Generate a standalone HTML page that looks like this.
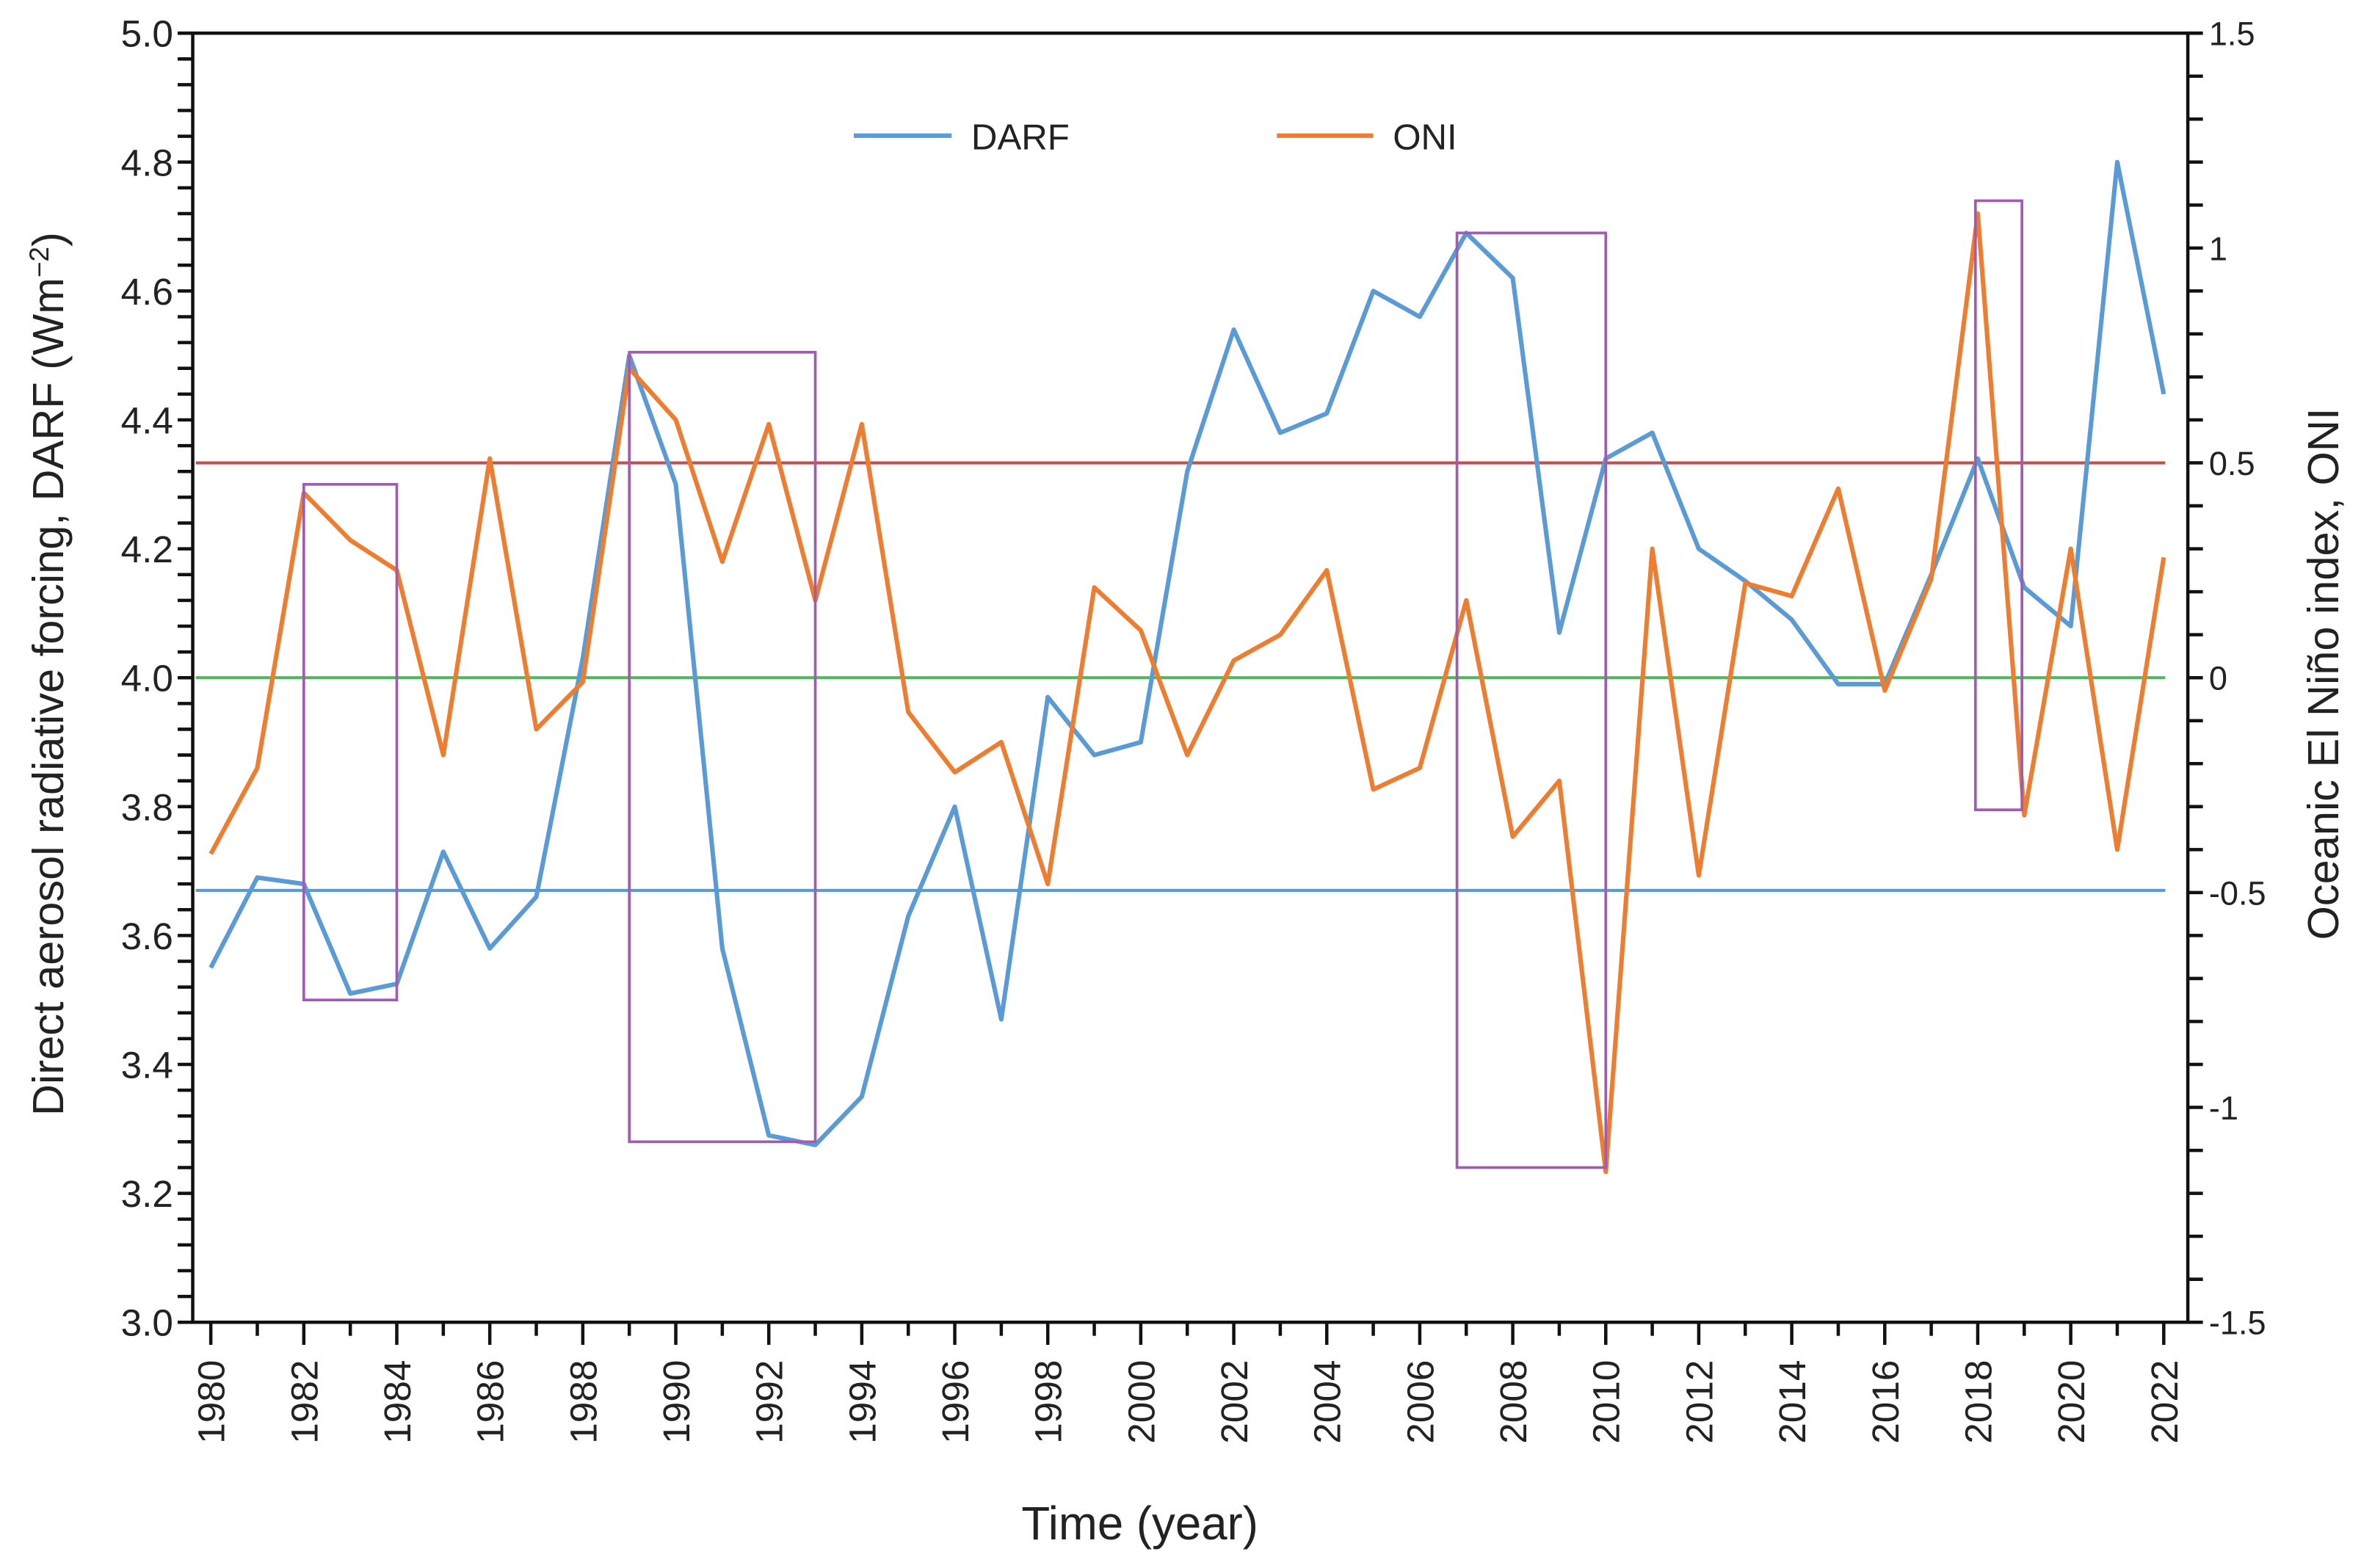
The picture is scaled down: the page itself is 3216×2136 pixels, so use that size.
<!DOCTYPE html>
<html><head><meta charset="utf-8"><style>
html,body{margin:0;padding:0;background:#fff}
svg{display:block}
text{font-family:"Liberation Sans","DejaVu Sans",sans-serif;fill:#222}
</style></head><body>
<svg id="chart" width="3216" height="2136" viewBox="0 0 1568 1040" preserveAspectRatio="none" xmlns="http://www.w3.org/2000/svg"></svg>
<script>
const years=[1980,1981,1982,1983,1984,1985,1986,1987,1988,1989,1990,1991,1992,1993,1994,1995,1996,1997,1998,1999,2000,2001,2002,2003,2004,2005,2006,2007,2008,2009,2010,2011,2012,2013,2014,2015,2016,2017,2018,2019,2020,2021,2022];
const darf=[3.55,3.69,3.68,3.51,3.525,3.73,3.58,3.66,4.03,4.50,4.30,3.58,3.29,3.275,3.35,3.63,3.80,3.47,3.97,3.88,3.90,4.32,4.54,4.38,4.41,4.60,4.56,4.69,4.62,4.07,4.34,4.38,4.20,4.15,4.09,3.99,3.99,4.16,4.34,4.14,4.08,4.80,4.44];
const oni=[-0.41,-0.21,0.43,0.32,0.25,-0.18,0.51,-0.12,-0.01,0.72,0.60,0.27,0.59,0.18,0.59,-0.08,-0.22,-0.15,-0.48,0.21,0.11,-0.18,0.04,0.10,0.25,-0.26,-0.21,0.18,-0.37,-0.24,-1.15,0.30,-0.46,0.22,0.19,0.44,-0.03,0.23,1.08,-0.32,0.30,-0.40,0.28];
const leftTicks=[3.0,3.2,3.4,3.6,3.8,4.0,4.2,4.4,4.6,4.8,5.0];
const rightTicks=[-1.5,-1,-0.5,0,0.5,1,1.5];
const refONI=[0.5,0];
const refDARF=[3.67];
const boxX0=[1982,1989,2006.8,2017.95];
const boxX1=[1984,1993,2010,2018.95];
const boxTop=[4.30,4.505,4.69,4.74];
const boxBot=[3.50,3.28,3.24,3.795];

const L=128,R=1453,T=22,B=877;
const X0=140,X1=1437;
const xs=y=>X0+(y-1980)*(X1-X0)/42;
const yl=v=>B-(v-3)*(B-T)/2;
const yr=v=>B-(v+1.5)*(B-T)/3;
const svg=document.getElementById('chart');
const NS='http://www.w3.org/2000/svg';
function mk(tag,attrs,parent){const e=document.createElementNS(NS,tag);for(const k in attrs)e.setAttribute(k,attrs[k]);(parent||svg).appendChild(e);return e;}

refONI.forEach((v,i)=>{
 const l=mk('line',{x1:L+2,x2:R-15,y1:yr(v),y2:yr(v),stroke:i===0?'#c0504d':'#4cbb5c','stroke-width':2});
 
 
});
refDARF.forEach(v=>{
 const l=mk('line',{x1:L+2,x2:R-15,y1:yl(v),y2:yl(v),stroke:'#5b9bd5','stroke-width':2});
 
 
});

const pd=darf.map((v,i)=>xs(years[i])+','+yl(v)).join(' ');
const dl=mk('polyline',{points:pd,fill:'none',stroke:'#5b9bd5','stroke-width':3,'stroke-linejoin':'round'});


const po=oni.map((v,i)=>xs(years[i])+','+yr(v)).join(' ');
const ol=mk('polyline',{points:po,fill:'none',stroke:'#ed7d31','stroke-width':3,'stroke-linejoin':'round'});



boxX0.forEach((x0,i)=>{
 const r=mk('rect',{x:xs(x0),y:yl(boxTop[i]),width:xs(boxX1[i])-xs(x0),height:yl(boxBot[i])-yl(boxTop[i]),fill:'none',stroke:'#a05cb0','stroke-width':1.8});
 
 
});

const fr=mk('rect',{x:L,y:T,width:R-L,height:B-T,fill:'none',stroke:'#111','stroke-width':2.2});



for(let v=3.0;v<=5.0001;v+=0.04){
 const t=mk('line',{x1:L-10,x2:L,y1:yl(v),y2:yl(v),stroke:'#111','stroke-width':2.2});
 
 
}
leftTicks.forEach(v=>{
 const t=mk('text',{x:L-13,y:yl(v)+9,'text-anchor':'end','font-size':25});
 t.textContent=v.toFixed(1);
 
 
});
for(let v=-1.5;v<=1.5001;v+=0.1){
 const t=mk('line',{x1:R,x2:R+10,y1:yr(v),y2:yr(v),stroke:'#111','stroke-width':2.2});
 
 
}
rightTicks.forEach(v=>{
 const t=mk('text',{x:R+14,y:yr(v)+8,'font-size':22});
 t.textContent=String(v);
 
 
});
for(let y=1980;y<=2022;y++){
 const major=y%2===0;
 const t=mk('line',{x1:xs(y),x2:xs(y),y1:B,y2:B+(major?15:9),stroke:'#111','stroke-width':2.2});
 
 
 if(major){
  const tx=mk('text',{x:0,y:0,'text-anchor':'end','font-size':25,transform:`translate(${xs(y)+9},${B+25}) rotate(-90)`});
  tx.textContent=y;
  
  
 }
}
const xt=mk('text',{x:757,y:1021,'text-anchor':'middle','font-size':31});
xt.textContent='Time (year)';


const ytl=mk('text',{x:0,y:0,'text-anchor':'middle','font-size':29,transform:'translate(42,447) rotate(-90)'});
ytl.innerHTML='Direct aerosol radiative forcing, DARF (Wm<tspan baseline-shift="super" font-size="18">−2</tspan>)';


const ytr=mk('text',{x:0,y:0,'text-anchor':'middle','font-size':29,transform:'translate(1553,447) rotate(-90)'});
ytr.textContent='Oceanic El Niño index, ONI';



const g1=mk('g',{});


mk('line',{x1:567,x2:632,y1:90,y2:90,stroke:'#5b9bd5','stroke-width':3},g1);
const lt1=mk('text',{x:645,y:99,'font-size':24,fill:'#444'},g1);lt1.textContent='DARF';
const g2=mk('g',{});


mk('line',{x1:848,x2:912,y1:90,y2:90,stroke:'#ed7d31','stroke-width':3},g2);
const lt2=mk('text',{x:925,y:99,'font-size':24,fill:'#444'},g2);lt2.textContent='ONI';
</script>
</body></html>
